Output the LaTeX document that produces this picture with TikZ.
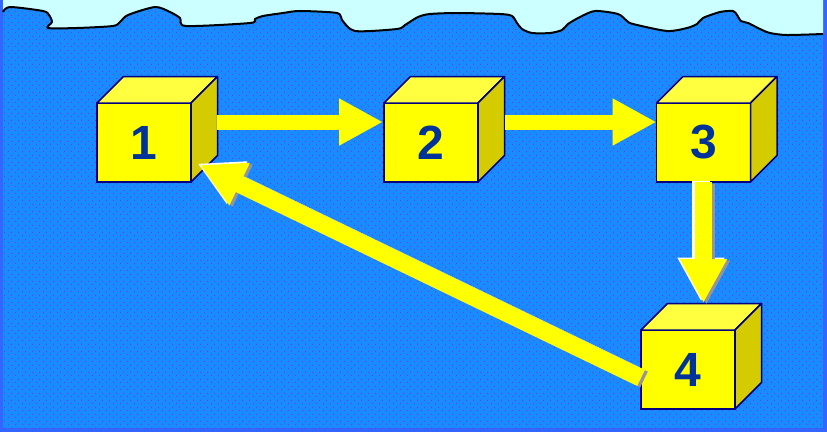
\documentclass[tikz,border=0pt]{standalone}
\usepackage{fontspec}
\setmainfont{Liberation Sans}
\usetikzlibrary{arrows.meta,calc,patterns.meta}
\definecolor{edgeblue}{RGB}{51,102,255}
\definecolor{water}{RGB}{24,140,255}
\definecolor{dotc}{RGB}{100,70,220}
\definecolor{sky}{RGB}{204,255,255}
\definecolor{navy}{RGB}{0,0,128}
\definecolor{numblue}{RGB}{0,51,153}
\definecolor{cubefront}{RGB}{255,255,0}
\definecolor{cubetop}{RGB}{255,255,64}
\definecolor{cubeside}{RGB}{212,204,0}
\definecolor{arrowyellow}{RGB}{255,255,0}
\definecolor{shadowgray}{RGB}{150,150,150}
\tikzdeclarepattern{name=wdots,type=uncolored,
  bounding box={(0pt,0pt) and (7pt,7pt)},tile size={(7pt,7pt)},
  code={\fill (1.75pt,1.75pt) circle (0.85pt); \fill (5.25pt,5.25pt) circle (0.85pt);}}
\tikzset{
  cube/.style={rectangle,draw=navy,line width=1.5pt,fill=cubefront,
    minimum width=94pt,minimum height=79pt,inner sep=0pt,outer sep=0pt,
    text=numblue,font=\fontsize{48}{48}\selectfont\bfseries},
  face/.style={draw=navy,line width=1.5pt,line join=round},
  arr/.style={draw=arrowyellow,line width=15pt,line cap=butt,
    -{Triangle[length=44pt,width=44pt,fill=arrowyellow]}},
  thickarr/.style={line width=17.5pt},
  arrhi/.style={arr,draw=white,-{Triangle[length=44pt,width=44pt,fill=white]}},
  arrsh/.style={arr,draw=shadowgray,-{Triangle[length=44pt,width=44pt,fill=shadowgray]}}
}
\begin{document}
\begin{tikzpicture}[x=1pt,y=-1pt]
\useasboundingbox (0,0) rectangle (827,432);
% frame and water
\fill[edgeblue] (0,0) rectangle (827,432);
\fill[water] (3,0) rectangle (823,428);
\fill[pattern=wdots,pattern color=dotc] (3,0) rectangle (823,428);
% sky and shoreline
\path[fill=sky] (3,0) -- (3,12) -- plot[smooth,tension=0.45] coordinates {
 (3,12) (10,7) (43,11) (49,15) (52,22) (48,28) (77,28) (113,26) (120,22) (128,15)
 (155,7) (170,12) (180,18) (186,26) (250,23) (255,19) (263,16) (283,13) (300,11)
 (337,13) (342,20) (355,31) (397,29) (405,25) (418,17) (430,14) (457,13) (500,14)
 (512,16) (517,23) (522,29) (532,33) (550,33) (562,30) (568,24) (580,17) (595,11)
 (618,14) (627,21) (633,24) (667,31) (687,28) (697,24) (703,18) (720,12) (733,11)
 (737,15) (741,21) (748,23) (760,29) (770,33) (787,35) (823,34)} -- (823,0) -- cycle;
\draw[black,line width=2pt,line join=round] plot[smooth,tension=0.45] coordinates {
 (3,12) (10,7) (43,11) (49,15) (52,22) (48,28) (77,28) (113,26) (120,22) (128,15)
 (155,7) (170,12) (180,18) (186,26) (250,23) (255,19) (263,16) (283,13) (300,11)
 (337,13) (342,20) (355,31) (397,29) (405,25) (418,17) (430,14) (457,13) (500,14)
 (512,16) (517,23) (522,29) (532,33) (550,33) (562,30) (568,24) (580,17) (595,11)
 (618,14) (627,21) (633,24) (667,31) (687,28) (697,24) (703,18) (720,12) (733,11)
 (737,15) (741,21) (748,23) (760,29) (770,33) (787,35) (823,34)};
% cubes
\node[cube] (b1) at (144,142.5) {1};
\node[cube] (b2) at (431,142.5) {2};
\node[cube] (b3) at (703.5,142.5) {3};
\node[cube] (b4) at (688,369.5) {4};
\foreach \n in {b1,b2,b3,b4}{
  \draw[face,fill=cubetop] (\n.north west) -- ($(\n.north west)+(26.5,-26.5)$)
     -- ($(\n.north east)+(26.5,-26.5)$) -- (\n.north east) -- cycle;
  \draw[face,fill=cubeside] (\n.north east) -- ($(\n.north east)+(26.5,-26.5)$)
     -- ($(\n.south east)+(26.5,-26.5)$) -- (\n.south east) -- cycle;
}
% connector end points
\coordinate (s12) at ($(b1.north east)+(26,19)$);
\coordinate (e12) at ($(b2.north west)+(-1,19)$);
\coordinate (s23) at ($(b2.north east)+(27,19)$);
\coordinate (e23) at ($(b3.north west)+(0,19)$);
\coordinate (b4top) at ($(b4.north)+(0,-27)$);
\coordinate (e34) at (b3.south |- b4top);
\coordinate (s41) at ($(b4.west)+(0,8.5)$);
\coordinate (e41) at ($(b1.south east)+(9,-17)$);
% arrows
\draw[arr] (s12) -- (e12);
\draw[arr] (s23) -- (e23);
\begin{scope}[transform canvas={xshift=-2.5pt,yshift=1.5pt}]
  \draw[arrhi,thickarr] (b3.south) -- (e34);
  \draw[arrhi,thickarr] (s41) -- (e41);
\end{scope}
\begin{scope}[transform canvas={xshift=3pt,yshift=-1.5pt}]
  \draw[arrsh,thickarr] (b3.south) -- (e34);
  \draw[arrsh,thickarr] (s41) -- (e41);
\end{scope}
\draw[arr,thickarr] (b3.south) -- (e34);
\draw[arr,thickarr] (s41) -- (e41);
\end{tikzpicture}
\end{document}
